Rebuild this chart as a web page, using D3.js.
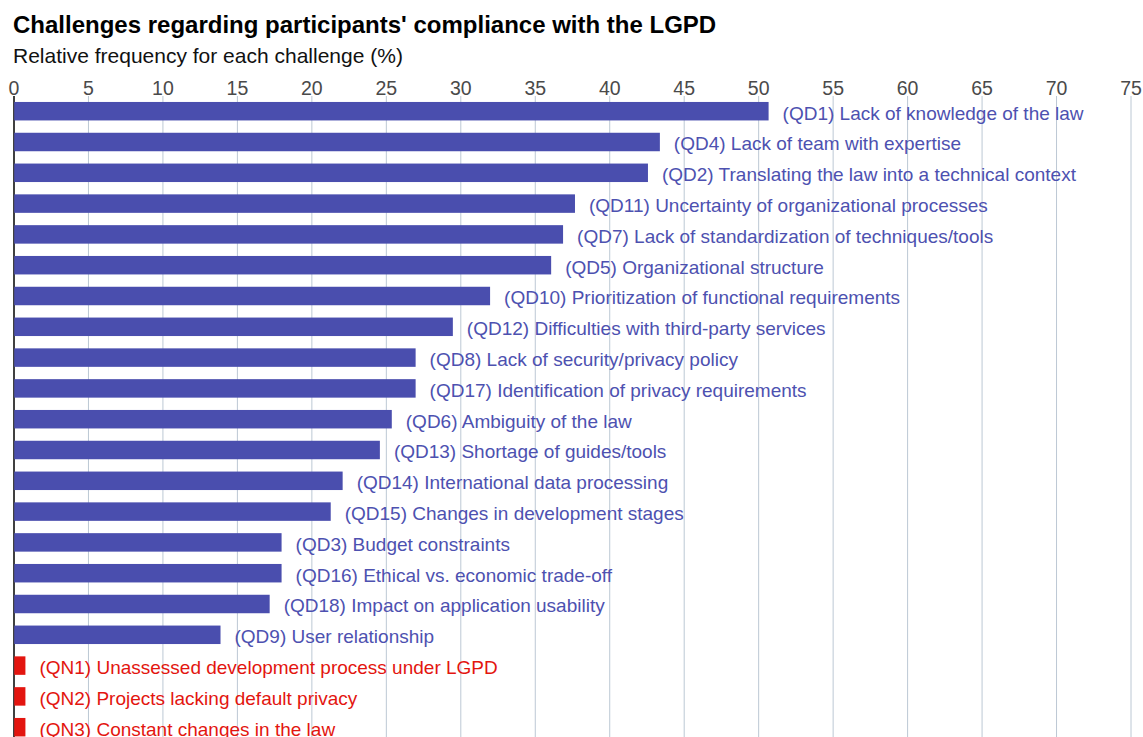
<!DOCTYPE html>
<html>
<head>
<meta charset="utf-8">
<script src="https://cdn.jsdelivr.net/npm/d3@7"></script>
<style>
  html, body { margin: 0; padding: 0; background: #fff; }
  svg { display: block; font-family: "Liberation Sans", Arial, sans-serif; }
</style>
</head>
<body>
<svg id="chart" width="1143" height="737"></svg>
<script>
// Challenge labels, top to bottom
const categories = [
  "(QD1) Lack of knowledge of the law",
  "(QD4) Lack of team with expertise",
  "(QD2) Translating the law into a technical context",
  "(QD11) Uncertainty of organizational processes",
  "(QD7) Lack of standardization of techniques/tools",
  "(QD5) Organizational structure",
  "(QD10) Prioritization of functional requirements",
  "(QD12) Difficulties with third-party services",
  "(QD8) Lack of security/privacy policy",
  "(QD17) Identification of privacy requirements",
  "(QD6) Ambiguity of the law",
  "(QD13) Shortage of guides/tools",
  "(QD14) International data processing",
  "(QD15) Changes in development stages",
  "(QD3) Budget constraints",
  "(QD16) Ethical vs. economic trade-off",
  "(QD18) Impact on application usability",
  "(QD9) User relationship",
  "(QN1) Unassessed development process under LGPD",
  "(QN2) Projects lacking default privacy",
  "(QN3) Constant changes in the law"
];

// Relative frequency (%) for each challenge
const values = [
  50.7, 43.4, 42.6, 37.7, 36.9, 36.1, 32.0, 29.5, 27.0, 27.0,
  25.4, 24.6, 22.1, 21.3, 18.0, 18.0, 17.2, 13.9, 0.8, 0.8, 0.8
];

// Group of each challenge: "QD" = identified, "QN" = new
const groups = [
  "QD","QD","QD","QD","QD","QD","QD","QD","QD","QD",
  "QD","QD","QD","QD","QD","QD","QD","QD","QN","QN","QN"
];

const tickValues = [0, 5, 10, 15, 20, 25, 30, 35, 40, 45, 50, 55, 60, 65, 70, 75];

const colors = { QD: "#4a4eae", QN: "#e3150f" };
const labelColors = { QD: "#4d51b0", QN: "#e3150f" };

const rows = categories.map((c, i) => ({ name: c, value: values[i], group: groups[i] }));

const svg = d3.select("#chart");

const x = d3.scaleLinear().domain([0, 75]).range([13.5, 1130.5]);
const y = d3.scaleBand()
  .domain(categories)
  .range([95.8, 95.8 + categories.length * 30.8])
  .paddingInner(0.4)
  .paddingOuter(0.2);

// Title and subtitle
svg.append("text")
  .attr("x", 13).attr("y", 33)
  .attr("font-size", 24).attr("font-weight", "bold").attr("fill", "#000")
  .text("Challenges regarding participants' compliance with the LGPD");

svg.append("text")
  .attr("x", 13).attr("y", 63)
  .attr("font-size", 21).attr("fill", "#111")
  .text("Relative frequency for each challenge (%)");

// Vertical grid lines and top tick labels
const axis = d3.axisTop(x)
  .tickValues(tickValues)
  .tickSize(-(737 - 96 + 20))
  .tickPadding(1)
  .tickFormat(d3.format("d"));

const gAxis = svg.append("g")
  .attr("transform", "translate(0,96)")
  .call(axis);

gAxis.select(".domain").remove();
gAxis.selectAll(".tick line")
  .attr("stroke", d => d === 0 ? "#000" : "#bcc8d4")
  .attr("stroke-width", d => d === 0 ? 1.5 : 1);
gAxis.selectAll(".tick text")
  .attr("font-size", 19.5)
  .attr("font-family", "'Liberation Sans', Arial, sans-serif")
  .attr("fill", "#4a4a4a")
  .attr("dy", "0");

// Bars
svg.append("g")
  .selectAll("rect")
  .data(rows)
  .join("rect")
  .attr("x", x(0) + 0.75)
  .attr("y", d => y(d.name))
  .attr("width", d => x(d.value) - x(0) - 0.75)
  .attr("height", y.bandwidth())
  .attr("fill", d => colors[d.group]);

// Category labels right of each bar
svg.append("g")
  .selectAll("text")
  .data(rows)
  .join("text")
  .attr("x", d => x(d.value) + 14)
  .attr("y", d => y(d.name) + y.bandwidth() / 2)
  .attr("dy", "0.44em")
  .attr("font-size", 19)
  .attr("fill", d => labelColors[d.group])
  .text(d => d.name);
</script>
</body>
</html>
